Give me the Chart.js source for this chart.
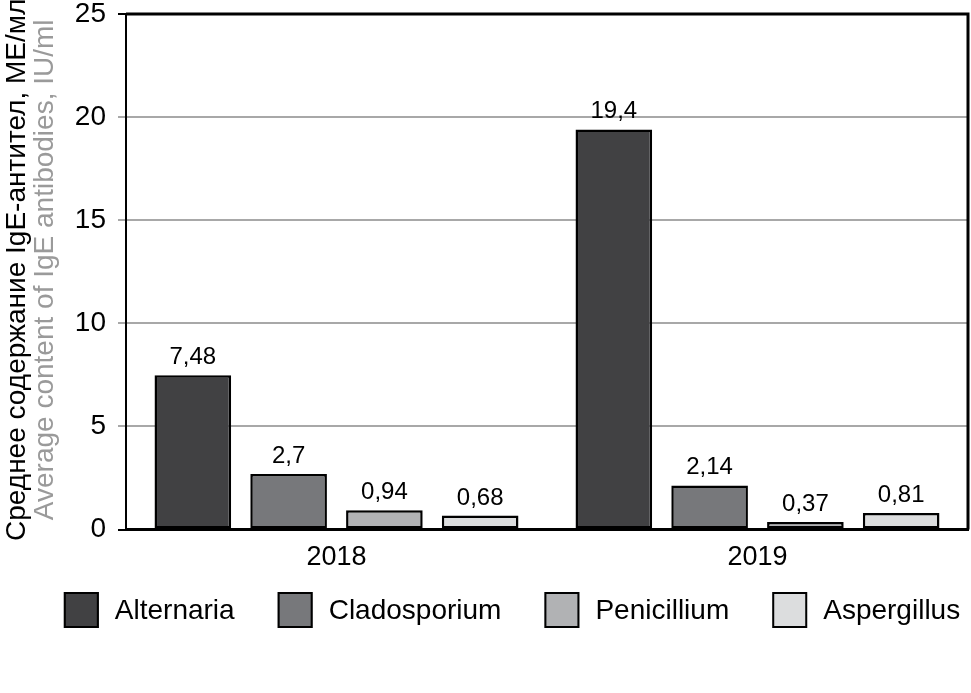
<!DOCTYPE html>
<html>
<head>
<meta charset="utf-8">
<script src="https://cdn.jsdelivr.net/npm/chart.js@4"></script>
<style>
  body { margin: 0; background: #fff; }
  #wrap { width: 971px; height: 693px; }
</style>
</head>
<body>
<div id="wrap"><canvas id="myChart"></canvas></div>
<script>
let years = ["2018", "2019"];
let fungi = ["Alternaria", "Cladosporium", "Penicillium", "Aspergillus"];
let alternaria = [7.48, 19.4];
let cladosporium = [2.7, 2.14];
let penicillium = [0.94, 0.37];
let aspergillus = [0.68, 0.81];
let yTicks = [0, 5, 10, 15, 20, 25];
let colors = ["#414143", "#77787b", "#b1b2b4", "#dcddde"];

let titleRu = "Среднее содержание IgE-антител, МЕ/мл";
let titleEn = "Average content of IgE antibodies, IU/ml";

const font = "'Liberation Sans', Arial, sans-serif";

// value labels on top of bars, comma as decimal mark
let valueLabels = {
    id: "valueLabels",
    afterDatasetsDraw(chart) {
        let ctx = chart.ctx;
        ctx.save();
        ctx.font = "24px " + font;
        ctx.fillStyle = "#000";
        ctx.textAlign = "center";
        ctx.textBaseline = "alphabetic";
        chart.data.datasets.forEach((ds, i) => {
            chart.getDatasetMeta(i).data.forEach((bar, j) => {
                let txt = String(ds.data[j]).replace(".", ",");
                ctx.fillText(txt, bar.x, bar.y - 11);
            });
        });
        ctx.restore();
    }
};

// top and right frame, two-line y title, legend row
let frame = {
    id: "frame",
    afterDraw(chart) {
        let ctx = chart.ctx;
        let a = chart.chartArea;
        ctx.save();
        ctx.strokeStyle = "#000";
        ctx.lineWidth = 3;
        ctx.beginPath();
        ctx.moveTo(a.left, a.top);
        ctx.lineTo(a.right, a.top);
        ctx.lineTo(a.right, a.bottom);
        ctx.stroke();

        // y title
        let cy = (a.top + a.bottom) / 2 - 2;
        ctx.save();
        ctx.font = "28px " + font;
        ctx.textAlign = "center";
        ctx.textBaseline = "middle";
        ctx.translate(17, cy);
        ctx.rotate(-Math.PI / 2);
        ctx.fillStyle = "#000";
        ctx.fillText(titleRu, 0, 0);
        ctx.fillStyle = "#9a9a9a";
        ctx.fillText(titleEn, 0, 28);
        ctx.restore();

        // legend
        let boxW = 35, boxH = 36, textGap = 16, itemGap = 43;
        let boxTop = 592;
        ctx.font = "28px " + font;
        let widths = fungi.map(n => boxW + textGap + ctx.measureText(n).width);
        let total = widths.reduce((s, w) => s + w, 0) + itemGap * (fungi.length - 1);
        let x = 512 - total / 2;
        ctx.textAlign = "left";
        ctx.textBaseline = "middle";
        fungi.forEach((name, i) => {
            ctx.fillStyle = colors[i];
            ctx.fillRect(x, boxTop, boxW, boxH);
            ctx.lineWidth = 2;
            ctx.strokeStyle = "#000";
            ctx.strokeRect(x + 1, boxTop + 1, boxW - 2, boxH - 2);
            ctx.fillStyle = "#000";
            ctx.fillText(name, x + boxW + textGap, boxTop + boxH / 2 + 1);
            x += widths[i] + itemGap;
        });
        ctx.restore();
    }
};

let seriesValues = [alternaria, cladosporium, penicillium, aspergillus];

const ctx = document.getElementById("myChart");

let chart = new Chart(ctx, {
    type: "bar",
    data: {
        labels: years,
        datasets: fungi.map((name, i) => ({
            label: name,
            data: seriesValues[i],
            backgroundColor: colors[i],
            borderColor: "#000",
            borderWidth: 2.5,
            borderSkipped: false,
            categoryPercentage: 0.91,
            barPercentage: 0.80
        }))
    },
    options: {
        responsive: true,
        maintainAspectRatio: false,
        animation: false,
        layout: {
            padding: { left: 0, right: 3, top: 14, bottom: 107 }
        },
        plugins: {
            tooltip: { enabled: false },
            legend: { display: false }
        },
        scales: {
            x: {
                grid: { display: false, drawTicks: false },
                border: { color: "#000", width: 3 },
                ticks: {
                    color: "#000",
                    padding: 12,
                    font: { family: font, size: 27 }
                }
            },
            y: {
                min: 0,
                max: 25,
                afterBuildTicks: (scale) => {
                    scale.ticks = yTicks.map(v => ({ value: v }));
                },
                grid: {
                    color: (c) => (c.tick && c.tick.value === 25) ? "#000" : "#a8a8a8",
                    lineWidth: 2,
                    tickLength: 8,
                    tickColor: (c) => (c.tick && (c.tick.value === 25 || c.tick.value === 0)) ? "#000" : "#a8a8a8"
                },
                border: { color: "#000", width: 2 },
                ticks: {
                    color: "#000",
                    padding: 12,
                    font: { family: font, size: 28 }
                },
                afterFit: (scale) => {
                    scale.width = 126;
                    scale.paddingTop = 0;
                    scale.paddingBottom = 0;
                }
            }
        }
    },
    plugins: [valueLabels, frame]
});
</script>
</body>
</html>
